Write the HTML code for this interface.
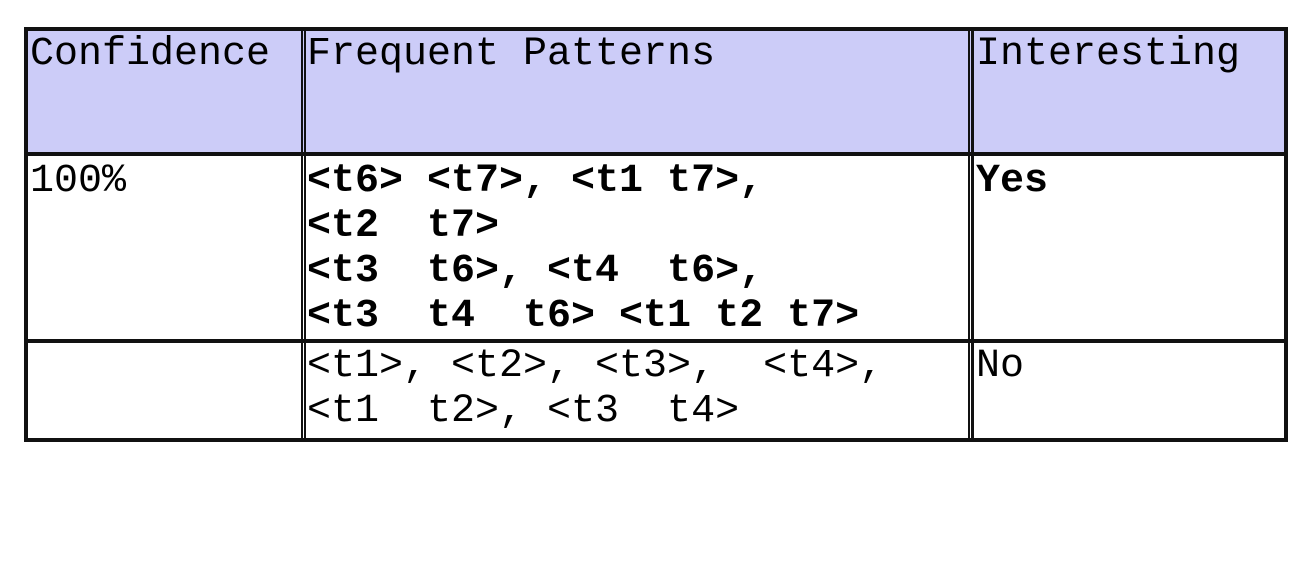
<!DOCTYPE html>
<html><head><style>
body{margin:0;width:1310px;height:564px;background:#fff;position:relative;overflow:hidden;font-family:"Liberation Mono","DejaVu Sans Mono",monospace;color:#000}
.r{position:absolute;background:#111}
.f{position:absolute;background:#ccccf8}
.t{position:absolute;white-space:pre;line-height:45px;font-size:40px}
.b{font-weight:bold}
</style></head><body>
<div class="f" style="left:28px;top:31px;width:1256px;height:121px"></div>
<div class="r" style="left:24px;top:27px;width:1264px;height:4px"></div>
<div class="r" style="left:24px;top:152px;width:1264px;height:4px"></div>
<div class="r" style="left:24px;top:339px;width:1264px;height:4px"></div>
<div class="r" style="left:24px;top:438px;width:1264px;height:4px"></div>
<div class="r" style="left:24px;top:27px;width:4px;height:415px"></div>
<div class="r" style="left:301px;top:27px;width:2px;height:415px"></div>
<div class="r" style="left:304px;top:27px;width:2px;height:415px"></div>
<div class="r" style="left:968px;top:27px;width:2px;height:415px"></div>
<div class="r" style="left:971px;top:27px;width:3px;height:415px"></div>
<div class="r" style="left:1284px;top:27px;width:4px;height:415px"></div>

<div class="t" style="left:30px;top:32px">Confidence</div>
<div class="t" style="left:307px;top:32px">Frequent Patterns</div>
<div class="t" style="left:976px;top:32px">Interesting</div>

<div class="t" style="left:30px;top:159px">100%</div>
<div class="t b" style="left:307px;top:159px">&lt;t6&gt; &lt;t7&gt;, &lt;t1 t7&gt;,
&lt;t2  t7&gt;
&lt;t3  t6&gt;, &lt;t4  t6&gt;,
&lt;t3  t4  t6&gt; &lt;t1 t2 t7&gt;</div>
<div class="t b" style="left:976px;top:159px">Yes</div>

<div class="t" style="left:307px;top:344px">&lt;t1&gt;, &lt;t2&gt;, &lt;t3&gt;,  &lt;t4&gt;,
&lt;t1  t2&gt;, &lt;t3  t4&gt;</div>
<div class="t" style="left:976px;top:344px">No</div>
</body></html>
